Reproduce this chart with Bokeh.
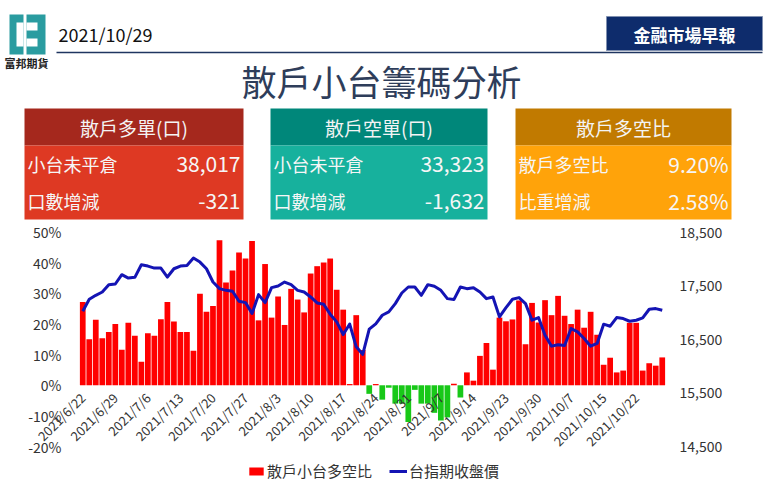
import numpy as np
from bokeh.plotting import figure
from bokeh.models import (Range1d, LinearAxis, FixedTicker, Legend, LegendItem,
                          ColumnDataSource, NumeralTickFormatter)
from bokeh.core.properties import value
from bokeh.embed import file_html
from bokeh.resources import INLINE

# ---------------- data ----------------
report_date = "2021/10/29"
title_text = "散戶小台籌碼分析"
badge_text = "金融市場早報"
logo_text = "富邦期貨"

box_titles = ["散戶多單(口)", "散戶空單(口)", "散戶多空比"]
box_row1_labels = ["小台未平倉", "小台未平倉", "散戶多空比"]
box_row1_values = ["38,017", "33,323", "9.20%"]
box_row2_labels = ["口數增減", "口數增減", "比重增減"]
box_row2_values = ["-321", "-1,632", "2.58%"]

dates = [
    "2021/6/22", "2021/6/23", "2021/6/24", "2021/6/25", "2021/6/28", "2021/6/29", "2021/6/30",
    "2021/7/1", "2021/7/2", "2021/7/5", "2021/7/6", "2021/7/7", "2021/7/8", "2021/7/9",
    "2021/7/12", "2021/7/13", "2021/7/14", "2021/7/15", "2021/7/16", "2021/7/19", "2021/7/20",
    "2021/7/21", "2021/7/22", "2021/7/23", "2021/7/26", "2021/7/27", "2021/7/28", "2021/7/29",
    "2021/7/30", "2021/8/2", "2021/8/3", "2021/8/4", "2021/8/5", "2021/8/6", "2021/8/9",
    "2021/8/10", "2021/8/11", "2021/8/12", "2021/8/13", "2021/8/16", "2021/8/17", "2021/8/18",
    "2021/8/19", "2021/8/20", "2021/8/23", "2021/8/24", "2021/8/25", "2021/8/26", "2021/8/27",
    "2021/8/30", "2021/8/31", "2021/9/1", "2021/9/2", "2021/9/3", "2021/9/6", "2021/9/7",
    "2021/9/8", "2021/9/9", "2021/9/10", "2021/9/13", "2021/9/14", "2021/9/15", "2021/9/16",
    "2021/9/17", "2021/9/22", "2021/9/23", "2021/9/24", "2021/9/27", "2021/9/28", "2021/9/29",
    "2021/9/30", "2021/10/1", "2021/10/4", "2021/10/5", "2021/10/6", "2021/10/7", "2021/10/8",
    "2021/10/12", "2021/10/13", "2021/10/14", "2021/10/15", "2021/10/18", "2021/10/19",
    "2021/10/20", "2021/10/21", "2021/10/22", "2021/10/25", "2021/10/26", "2021/10/27",
    "2021/10/28",
]

# 散戶小台多空比 (%)
ratio_pct = [
    27.2, 15.0, 21.4, 15.4, 17.4, 20.0, 11.6, 20.4, 16.2, 7.7,
    17.0, 16.2, 21.6, 27.2, 20.8, 17.4, 17.4, 11.3, 29.9, 24.0,
    25.9, 47.4, 33.6, 37.5, 43.4, 41.4, 47.1, 21.2, 39.6, 22.1,
    29.0, 19.7, 31.5, 28.0, 23.8, 36.5, 38.9, 40.1, 41.4, 31.2,
    24.7, 0.4, 22.9, 11.5, -2.8, 0.4, -4.7, -0.8, -6.0, -6.0,
    -12.0, -1.5, -6.0, -6.0, -9.0, -11.5, -10.5, 0.5, -4.0, 4.2,
    1.5, 9.6, 13.8, 5.1, 22.1, 20.9, 21.5, 27.7, 13.4, 26.9,
    20.5, 27.8, 22.9, 29.2, 22.7, 20.0, 24.7, 18.8, 24.0, 16.5,
    6.7, 9.0, 4.2, 4.8, 20.4, 20.4, 4.8, 7.2, 6.4, 9.1,
]

# 台指期收盤價
close_px = [
    17025, 17248, 17322, 17384, 17521, 17533, 17707, 17644, 17657, 17893,
    17868, 17830, 17830, 17663, 17818, 17868, 17880, 18017, 17942, 17818,
    17570, 17446, 17415, 17397, 17211, 17186, 16982, 17335, 17186, 17465,
    17496, 17570, 17521, 17415, 17384, 17291, 17179, 17155, 16970, 16826,
    16590, 16785, 16360, 16220, 16690, 16790, 16950, 17012, 17167, 17365,
    17477, 17477, 17322, 17521, 17490, 17415, 17260, 17242, 17477, 17446,
    17465, 17384, 17260, 17291, 16919, 17093, 17248, 17279, 17167, 16857,
    16907, 16578, 16373, 16398, 16386, 16703, 16640, 16516, 16373, 16423,
    16783, 16745, 16907, 16888, 16838, 16857, 16900, 17062, 17074, 17043,
]

left_ticks = [-20, -10, 0, 10, 20, 30, 40, 50]
right_ticks = [14500, 15500, 16500, 17500, 18500]
date_label_step = 5

# ---------------- style / layout (pixel geometry) ----------------
FONT = "Noto Sans CJK TC"
W, H = 769, 490
Y_TOP_PX, Y_BOT_PX = 231.7, 446.0     # page y of top / bottom tick rows
BAR_L_PX, BAR_R_PX = 79.0, 665.0      # page x of first bar's left / last bar's right
LAXIS_PX, RAXIS_PX = 72.0, 668.0      # where the value axes stand

n = len(dates)
xpp = (BAR_R_PX - BAR_L_PX) / n
x_start = -0.5 - BAR_L_PX / xpp
x_end = n - 0.5 + (W - BAR_R_PX) / xpp


def xdata(px):
    return x_start + px / xpp


lpp = (Y_BOT_PX - Y_TOP_PX) / (left_ticks[-1] - left_ticks[0])
l0 = left_ticks[0] - (H - Y_BOT_PX) / lpp
l1 = left_ticks[-1] + Y_TOP_PX / lpp
rpp = (Y_BOT_PX - Y_TOP_PX) / (right_ticks[-1] - right_ticks[0])
r0 = right_ticks[0] - (H - Y_BOT_PX) / rpp
r1 = right_ticks[-1] + Y_TOP_PX / rpp

p = figure(width=W, height=H, output_backend="svg", toolbar_location=None,
           x_range=Range1d(x_start, x_end), y_range=Range1d(l0, l1),
           x_axis_location=None, y_axis_location=None,
           min_border=0, outline_line_color=None,
           background_fill_color="white", border_fill_color="white")
p.grid.visible = False
p.extra_y_ranges = {"px": Range1d(r0, r1), "hy": Range1d(H, 0)}
p.extra_x_ranges = {"hx": Range1d(0, W)}

# ================= header (pixel coordinates) =================
HK = dict(x_range_name="hx", y_range_name="hy")


def box(x0, x1, y0, y1, color, line=None):
    p.quad(left=x0, right=x1, top=y0, bottom=y1, fill_color=color,
           line_color=line, **HK)


def txt(x, y, s, size, color, align="left", bold=False):
    p.text(x=[x], y=[y], text=[s], text_font=value(FONT),
           text_font_size=size, text_color=color, text_align=align,
           text_baseline="middle", text_font_style="bold" if bold else "normal", **HK)


# logo
teal = "#2A9CA0"
box(9, 23, 14, 54, teal)
box(16, 23, 22, 46, "white")
box(26, 45, 14, 54, teal)
box(26, 37, 22, 30, "white")
box(26, 37, 38, 46, "white")
txt(26, 62, logo_text, "11px", "#222222", align="center", bold=True)

# date and rule
txt(58, 33, report_date, "18px", "#111111")
p.segment(x0=[56], y0=[52], x1=[762], y1=[52], line_color="#1F3560",
          line_width=1.5, **HK)

# badge
box(606, 762, 16, 50, "#0E2C6C", line="#8090B0")
txt(684, 33.5, badge_text, "17px", "white", align="center", bold=True)

# title
txt(381, 80, title_text, "35px", "#2E3D5A", align="center")

# info boxes
box_x = [(24, 243), (270, 487), (515, 731)]
head_colors = ["#A5281D", "#00877A", "#C17A00"]
body_colors = ["#DE3923", "#17B19D", "#FFA30A"]
for i in range(3):
    bx0, bx1 = box_x[i]
    box(bx0, bx1, 108, 145, head_colors[i])
    box(bx0, bx1, 145, 219, body_colors[i])
    txt((bx0 + bx1) / 2, 127, box_titles[i], "19px", "#F4F4F4", align="center")
    txt(bx0 + 3, 163, box_row1_labels[i], "18px", "#F6F6F6")
    txt(bx1 - 3, 163, box_row1_values[i], "21px", "#F6F6F6", align="right")
    txt(bx0 + 3, 200, box_row2_labels[i], "18px", "#F6F6F6")
    txt(bx1 - 3, 200, box_row2_values[i], "21px", "#F6F6F6", align="right")

# ================= chart =================
x = np.arange(n)
ratio = np.array(ratio_pct, dtype=float)
pos = ratio >= 0
src_pos = ColumnDataSource(dict(x=x[pos], top=ratio[pos]))
src_neg = ColumnDataSource(dict(x=x[~pos], top=ratio[~pos]))
r_pos = p.vbar(x="x", top="top", bottom=0, width=0.88, source=src_pos,
               fill_color="#FF0000", line_color=None)
r_neg = p.vbar(x="x", top="top", bottom=0, width=0.88, source=src_neg,
               fill_color="#18C818", line_color=None)
r_line = p.line(x=x, y=close_px, y_range_name="px", line_color="#1414B4",
                line_width=3, line_join="round")

label_color = "#333333"
common = dict(axis_line_color=None, major_tick_line_color=None,
              minor_tick_line_color=None, major_label_text_font=FONT,
              major_label_text_color=label_color)

lax = LinearAxis(ticker=FixedTicker(ticks=left_ticks),
                 major_label_overrides={t: f"{t}%" for t in left_ticks},
                 fixed_location=xdata(LAXIS_PX), major_label_standoff=5,
                 major_label_text_font_size="14px", **common)
p.add_layout(lax, "left")

rax = LinearAxis(y_range_name="px", ticker=FixedTicker(ticks=right_ticks),
                 formatter=NumeralTickFormatter(format="0,0"),
                 fixed_location=xdata(RAXIS_PX), major_label_standoff=5,
                 major_label_text_font_size="14px", **common)
p.add_layout(rax, "right")

date_ticks = list(range(0, n, date_label_step))
bax = LinearAxis(ticker=FixedTicker(ticks=date_ticks),
                 major_label_overrides={t: dates[t] for t in date_ticks},
                 major_label_orientation=np.pi / 4, fixed_location=0,
                 major_label_standoff=4, major_label_text_font_size="13px", **common)
p.add_layout(bax, "below")

legend = Legend(items=[LegendItem(label="散戶小台多空比", renderers=[r_pos]),
                       LegendItem(label="台指期收盤價", renderers=[r_line])],
                orientation="horizontal", location=(247, H - 481),
                border_line_color=None, background_fill_alpha=0,
                label_text_font=FONT, label_text_font_size="15px",
                label_text_color=label_color, glyph_width=18, glyph_height=10,
                label_standoff=2, spacing=17, padding=0, margin=0, label_height=18)
p.add_layout(legend)

open("out.html", "w").write(file_html(p, INLINE))
